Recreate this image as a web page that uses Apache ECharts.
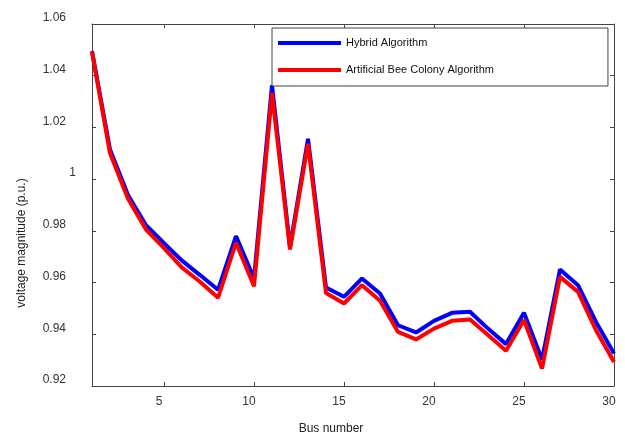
<!DOCTYPE html>
<html>
<head>
<meta charset="utf-8">
<script src="https://cdn.jsdelivr.net/npm/echarts@6/dist/echarts.min.js"></script>
<style>html,body{margin:0;padding:0;background:#fff;}#c{width:625px;height:436px;}</style>
</head>
<body>
<div id="c"></div>
<script>
const buses = [1,2,3,4,5,6,7,8,9,10,11,12,13,14,15,16,17,18,19,20,21,22,23,24,25,26,27,28,29,30];
const hybrid = [1.0495,1.0115,0.9939,0.9822,0.9752,0.9685,0.9629,0.9572,0.9780,0.9616,1.0363,0.9738,1.0156,0.9581,0.9545,0.9616,0.9558,0.9435,0.9407,0.9452,0.9483,0.9487,0.9422,0.9362,0.9483,0.9302,0.9651,0.9590,0.9448,0.9326];
const abc = [1.0493,1.0100,0.9924,0.9805,0.9733,0.9658,0.9603,0.9541,0.9754,0.9586,1.0333,0.9728,1.0137,0.9560,0.9519,0.9590,0.9530,0.9409,0.9380,0.9422,0.9452,0.9457,0.9397,0.9336,0.9455,0.9267,0.9622,0.9564,0.9416,0.9293];
const xTicks = [5,10,15,20,25,30];
const yTicks = [0.92,0.94,0.96,0.98,1.00,1.02,1.04,1.06];
const seriesNames = ['Hybrid Algorithm','Artificial Bee Colony Algorithm'];

const FONT = '"Liberation Sans", Arial, Helvetica, sans-serif';
const AX = '#444';
const chart = echarts.init(document.getElementById('c'), null, {renderer:'canvas'});
const tick = {show:true, inside:true, length:4, lineStyle:{color:AX, width:1}};
const line = {show:true, onZero:false, lineStyle:{color:AX, width:1}};
chart.setOption({
  animation:false,
  backgroundColor:'#fff',
  grid:{left:92, right:11, top:24, bottom:50, containLabel:false, outerBoundsMode:'none'},
  legend:{
    orient:'vertical', left:272, top:28,
    data:seriesNames,
    icon:'rect', itemWidth:63, itemHeight:4, itemGap:13,
    padding:[8,114,9,6],
    borderColor:'#444', borderWidth:1, backgroundColor:'#fff',
    textStyle:{fontFamily:FONT, fontSize:11, color:'#111', lineHeight:14}
  },
  xAxis:[{
    type:'value', min:1, max:30, position:'bottom',
    axisLine:line, axisTick:Object.assign({customValues:xTicks}, tick),
    axisLabel:{customValues:xTicks, fontFamily:FONT, fontSize:12, color:'#333', margin:10, padding:[0,10,0,0]},
    splitLine:{show:false},
    name:'Bus number', nameLocation:'middle', nameGap:37,
    nameTextStyle:{fontFamily:FONT, fontSize:12, color:'#222', padding:[0,44,0,0]}
  },{
    type:'value', min:1, max:30, position:'top',
    axisLine:line, axisTick:Object.assign({customValues:xTicks}, tick),
    axisLabel:{show:false}, splitLine:{show:false}
  }],
  yAxis:[{
    type:'value', min:0.92, max:1.06, position:'left',
    axisLine:line, axisTick:Object.assign({customValues:yTicks}, tick),
    axisLabel:{customValues:yTicks, margin:16, padding:[0,0,12,0],
      formatter:function(v){ const s = String(Math.round(v*100)/100); return s==='1' ? '{b|1}' : '{a|'+s+'}'; },
      rich:{a:{fontFamily:FONT, fontSize:12, color:'#333', padding:[0,10,0,0]}, b:{fontFamily:FONT, fontSize:12, color:'#333'}}
    },
    splitLine:{show:false},
    name:'voltage magnitude (p.u.)', nameLocation:'middle', nameGap:64,
    nameTextStyle:{fontFamily:FONT, fontSize:12, color:'#222', padding:[0,76,0,0]}
  },{
    type:'value', min:0.92, max:1.06, position:'right',
    axisLine:line, axisTick:Object.assign({customValues:yTicks}, tick),
    axisLabel:{show:false}, splitLine:{show:false}
  }],
  series:[{
    name:seriesNames[0], type:'line', xAxisIndex:0, yAxisIndex:0,
    data:buses.map((b,i)=>[b,hybrid[i]]),
    showSymbol:false, symbol:'none', lineStyle:{color:'#0000ff', width:4}, itemStyle:{color:'#0000ff'}
  },{
    name:seriesNames[1], type:'line', xAxisIndex:0, yAxisIndex:0,
    data:buses.map((b,i)=>[b,abc[i]]),
    showSymbol:false, symbol:'none', lineStyle:{color:'#ff0000', width:4}, itemStyle:{color:'#ff0000'}
  }]
});
</script>
</body>
</html>
